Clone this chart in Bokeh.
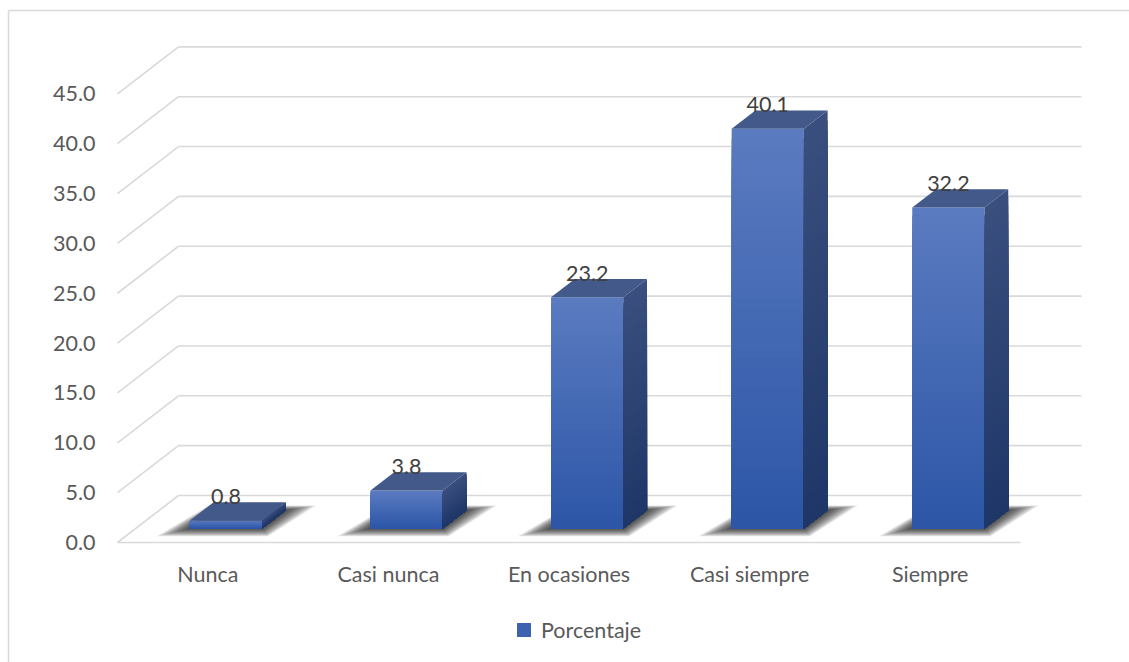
import numpy as np
from bokeh.plotting import figure
from bokeh.models import Range1d, Legend, LegendItem
from bokeh.embed import file_html
from bokeh.resources import INLINE
from bokeh.core.properties import value

# ---------------- data ----------------
categories = ["Nunca", "Casi nunca", "En ocasiones", "Casi siempre", "Siempre"]
percentages = [0.8, 3.8, 23.2, 40.1, 32.2]
y_ticks = [0, 5, 10, 15, 20, 25, 30, 35, 40, 45]
y_tick_labels = ["0.0", "5.0", "10.0", "15.0", "20.0", "25.0", "30.0", "35.0", "40.0", "45.0"]
series_name = "Porcentaje"

# ---------------- geometry (scales) ----------------
W, H = 1129, 662
PX_U = 180.6      # pixels per category unit
PX_V = 9.97       # pixels per percentage unit
X0, Y0 = 117, 542  # front-left origin of the floor, in pixels
DX = 61 / PX_U    # full depth offset, data units
DY = 47 / PX_V
D0, D1 = 0.298, 0.687   # bar depth (fraction of full depth)
BL, BR = 0.3, 0.7       # bar extent inside category slot
N_CAT = len(categories)

FONT_NAME = "Lato"
FONT = value(FONT_NAME)
FS = "21.5px"
AXIS_COLOR = "#595959"
LABEL_COLOR = "#404040"
GRID_COLOR = "#D9D9D9"


def P(u, v, d):
    return (u + d * DX, v + d * DY)


def hex2rgb(h):
    h = h.lstrip("#")
    return np.array([int(h[i:i + 2], 16) for i in (0, 2, 4)], dtype=float)


def lerp_color(c0, c1, t):
    c = hex2rgb(c0) * (1 - t) + hex2rgb(c1) * t
    return "#%02x%02x%02x" % tuple(int(round(x)) for x in c)


FRONT_TOP, FRONT_BOT = "#5B7BC0", "#2C56A7"
SIDE_TOP, SIDE_BOT = "#3A4F7E", "#1E3768"
TOP_FACE = "#42598A"

p = figure(width=W, height=H, x_range=Range1d(-X0 / PX_U, (W - X0) / PX_U),
           y_range=Range1d(-(H - Y0) / PX_V, Y0 / PX_V),
           output_backend="svg", toolbar_location=None,
           x_axis_location=None, y_axis_location=None,
           min_border=0, outline_line_color=None,
           background_fill_color="white", border_fill_color="white")
p.grid.visible = False

# chart border (top & left edges visible)
bx = (8 - X0) / PX_U
by = (Y0 - 10) / PX_V
p.line([bx, (W + 5 - X0) / PX_U], [by, by], line_color=GRID_COLOR, line_width=1.5)
p.line([bx, bx], [by, -(H + 5 - Y0) / PX_V], line_color=GRID_COLOR, line_width=1.5)

# back wall gridlines and left wall diagonals
gx, gy = [], []
for t in y_ticks:
    a = P(0, t, 1)
    b = P(N_CAT, t, 1)
    gx.append([a[0], b[0]]); gy.append([a[1], b[1]])
    c = P(0, t, 0)
    gx.append([c[0], a[0]]); gy.append([c[1], a[1]])
# floor front edge
f0, f1 = P(0, 0, 0), P(N_CAT, 0, 0)
gx.append([f0[0], f1[0]]); gy.append([f0[1], f1[1]])
p.multi_line(gx, gy, line_color=GRID_COLOR, line_width=1.6)

# y tick labels
p.text(x=[(95 - X0) / PX_U] * len(y_ticks), y=y_ticks, text=y_tick_labels,
       text_font=FONT, text_font_size=FS, text_color=AXIS_COLOR,
       text_align="right", text_baseline="middle")

# category labels
cat_x = [P(i + 0.5, 0, 0)[0] for i in range(N_CAT)]
cat_y = [(Y0 - 573) / PX_V] * N_CAT
p.text(x=cat_x, y=cat_y, text=categories, text_font=FONT, text_font_size=FS,
       text_color=AXIS_COLOR, text_align="center", text_baseline="middle")

# bars
NS = 40
for i, v in enumerate(percentages):
    l, r = i + BL, i + BR
    # shadow: layered expanding footprint (soft)
    sxs, sys = [], []
    for k in range(10, 0, -1):
        el = k * 2.7 / PX_U
        er = k * 2.4 / PX_U
        ed = k * 0.010
        pts = [P(l - el, -k * 0.03, D0 - ed), P(r + er * 0.5, -k * 0.03, D0 - ed),
               P(r + er, 0, D1 + ed), P(l - el * 0.4, 0, D1 + ed)]
        sxs.append([q[0] for q in pts]); sys.append([q[1] for q in pts])
    p.patches(sxs, sys, fill_color="black", fill_alpha=0.1, line_color=None)

    # front face gradient (overlapping bands painted top colour first)
    lefts, rights, bots, tops, cols = [], [], [], [], []
    x_l = P(l, 0, D0)[0]
    x_r = P(r, 0, D0)[0]
    base = P(l, 0, D0)[1]
    for s in range(NS):
        t0 = s / NS
        lefts.append(x_l); rights.append(x_r)
        bots.append(base)
        tops.append(base + v * (1 - t0))
        cols.append(lerp_color(FRONT_TOP, FRONT_BOT, (s + 0.5) / NS))
    p.quad(left=lefts, right=rights, bottom=bots, top=tops, fill_color=cols,
           line_color=None)

    # side face gradient
    pxs, pys, pcs = [], [], []
    for s in range(NS):
        t0 = s / NS
        vb = v * (1 - t0)
        pts = [P(r, 0, D0), P(r, 0, D1), P(r, vb, D1), P(r, vb, D0)]
        pxs.append([q[0] for q in pts]); pys.append([q[1] for q in pts])
        pcs.append(lerp_color(SIDE_TOP, SIDE_BOT, (s + 0.5) / NS))
    p.patches(pxs, pys, fill_color=pcs, line_color=None)

    # top face
    pts = [P(l, v, D0), P(r, v, D0), P(r, v, D1), P(l, v, D1)]
    p.patch([q[0] for q in pts], [q[1] for q in pts], fill_color=TOP_FACE,
            line_color=None)

# value labels
lab_x = [P(i + 0.5, 0, D0)[0] for i in range(N_CAT)]
lab_y = [P(0, v, D0)[1] + 24 / PX_V for v in percentages]
p.text(x=lab_x, y=lab_y, text=["%.1f" % v for v in percentages], text_font=FONT,
       text_font_size=FS, text_color=LABEL_COLOR, text_align="center",
       text_baseline="middle")

# legend (renderer holds a single point outside the visible ranges)
dummy = p.scatter(x=[-50], y=[-500], marker="square", size=14,
                  fill_color="#3C62B0", line_color=None)
legend = Legend(items=[LegendItem(label=series_name, renderers=[dummy])],
                location=(506, 15), orientation="horizontal",
                glyph_width=35, glyph_height=35, label_standoff=-4,
                padding=0, margin=0, border_line_color=None,
                background_fill_alpha=0, label_text_font=FONT_NAME,
                label_text_font_size=FS, label_text_color=AXIS_COLOR)
p.add_layout(legend, "center")

open("out.html", "w").write(file_html(p, INLINE))
